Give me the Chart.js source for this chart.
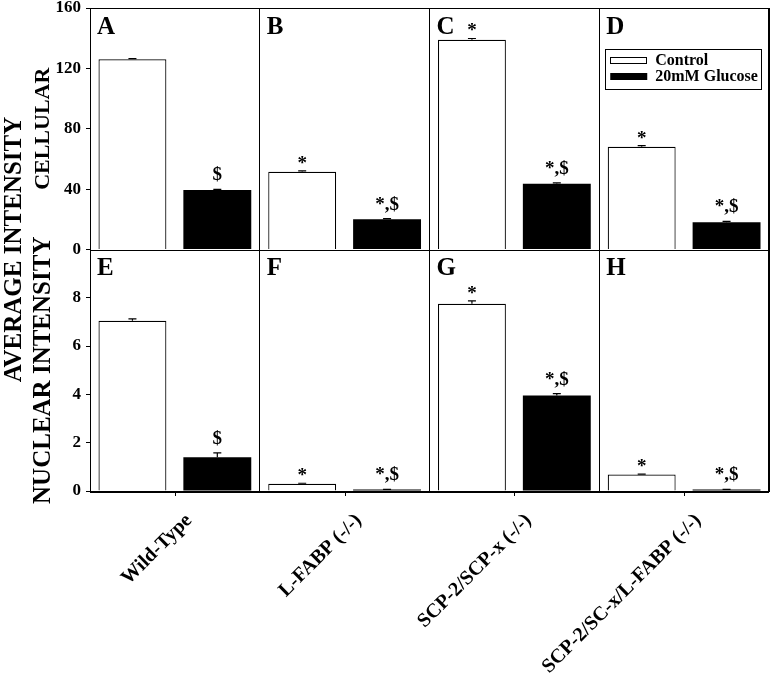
<!DOCTYPE html>
<html><head><meta charset="utf-8">
<script src="https://cdn.jsdelivr.net/npm/chart.js@4/dist/chart.umd.min.js"></script>
<style>html,body{margin:0;padding:0;background:#fff}</style>
</head><body>
<canvas id="c" width="771" height="685"></canvas>
<script>
const categories = ['Wild-Type', 'L-FABP (-/-)', 'SCP-2/SCP-x (-/-)', 'SCP-2/SC-x/L-FABP (-/-)'];
const seriesNames = ['Control', '20mM Glucose'];
const cellularControl = [126, 51.5, 139, 68];
const cellularGlucose = [39.5, 20, 43.5, 18];
const cellularControlErr = [0.5, 0.6, 0.8, 0.8];
const cellularGlucoseErr = [0.4, 0.5, 0.7, 0.6];
const nuclearControl = [7.05, 0.3, 7.75, 0.68];
const nuclearGlucose = [1.4, 0.06, 3.95, 0.06];
const nuclearControlErr = [0.08, 0.02, 0.12, 0.02];
const nuclearGlucoseErr = [0.18, 0.01, 0.08, 0.01];
const cellularControlMarks = ['', '*', '*', '*'];
const cellularGlucoseMarks = ['$', '*,$', '*,$', '*,$'];
const nuclearControlMarks = ['', '*', '*', '*'];
const nuclearGlucoseMarks = ['$', '*,$', '*,$', '*,$'];
const topPanelLetters = ['A', 'B', 'C', 'D'];
const bottomPanelLetters = ['E', 'F', 'G', 'H'];
const cellularTicks = [0, 40, 80, 120, 160];
const nuclearTicks = [0, 2, 4, 6, 8];
const yTitleMain = 'AVERAGE INTENSITY';
const yTitleTop = 'CELLULAR';
const yTitleBottom = 'NUCLEAR INTENSITY';

const FONT = "'Liberation Serif','Times New Roman',serif";
Chart.defaults.font.family = FONT;
Chart.defaults.font.weight = 'bold';
Chart.defaults.color = '#000';

const decor = {
  id: 'decor',
  afterDraw(chart) {
    const ctx = chart.ctx, ca = chart.chartArea, xs = chart.scales.x;
    const yc = chart.scales.yc, yn = chart.scales.yn;
    ctx.save();
    ctx.strokeStyle = '#000'; ctx.lineWidth = 1;
    [yc, yn].forEach(s => {
      ctx.strokeRect(Math.round(ca.left) + 0.5, Math.round(s.top) + 0.5, Math.round(ca.right - ca.left) - 1, Math.round(s.bottom - s.top));
    });
    categories.forEach((c, i) => {
      const px = Math.round(xs.getPixelForValue(i)) + 0.5;
      ctx.beginPath(); ctx.moveTo(px, ca.bottom); ctx.lineTo(px, ca.bottom + 5); ctx.stroke();
    });
    chart.data.datasets.forEach((ds, di) => {
      const meta = chart.getDatasetMeta(di);
      const ys = chart.scales[ds.yAxisID];
      meta.data.forEach((bar, i) => {
        const v = ds.data[i], e = ds.errors[i];
        const top = ys.getPixelForValue(v + e);
        const by = ys.getPixelForValue(v);
        ctx.strokeStyle = '#000'; ctx.lineWidth = 1.2;
        ctx.beginPath();
        ctx.moveTo(bar.x, by); ctx.lineTo(bar.x, top);
        ctx.moveTo(bar.x - 4, top); ctx.lineTo(bar.x + 4, top);
        ctx.stroke();
        const m = ds.marks[i];
        if (m) {
          ctx.fillStyle = '#000';
          ctx.font = "bold 19px " + FONT;
          ctx.textAlign = 'center'; ctx.textBaseline = 'alphabetic';
          ctx.fillText(m, bar.x, top - (m === '*' ? 2 : 9));
        }
      });
    });
    const half = (xs.getPixelForValue(1) - xs.getPixelForValue(0)) / 2;
    ctx.font = "bold 25px " + FONT; ctx.textAlign = 'left'; ctx.textBaseline = 'alphabetic'; ctx.fillStyle = '#000';
    categories.forEach((c, i) => {
      const left = xs.getPixelForValue(i) - half;
      ctx.fillText(topPanelLetters[i], left + 7, yc.top + 26);
      ctx.fillText(bottomPanelLetters[i], left + 7, yn.top + 25);
    });
    const lx = xs.getPixelForValue(3) - half + 6, ly = yc.top + 41;
    ctx.lineWidth = 1; ctx.strokeStyle = '#000';
    ctx.strokeRect(Math.round(lx) + 0.5, Math.round(ly) + 0.5, 156, 40);
    ctx.fillStyle = '#fff'; ctx.fillRect(lx + 5, ly + 8, 36, 6);
    ctx.strokeRect(Math.round(lx + 5) + 0.5, Math.round(ly + 8) + 0.5, 36, 6);
    ctx.fillStyle = '#000'; ctx.fillRect(lx + 5, ly + 24, 37, 7);
    ctx.font = "bold 16px " + FONT; ctx.textBaseline = 'middle';
    ctx.fillText(chart.data.datasets[0].label, lx + 50, ly + 12);
    ctx.fillText(chart.data.datasets[1].label, lx + 50, ly + 28);
    ctx.save();
    ctx.translate(15, (yc.top + yn.bottom) / 2);
    ctx.rotate(-Math.PI / 2);
    ctx.font = "bold 25px " + FONT; ctx.textAlign = 'center'; ctx.textBaseline = 'middle';
    ctx.fillText(yTitleMain, 0, 0);
    ctx.restore();
    ctx.restore();
  }
};

const mk = (label, data, errors, marks, axis, stack, color) => ({
  label, data, errors, marks, yAxisID: axis, stack,
  backgroundColor: color, borderColor: '#000', borderWidth: color === '#fff' ? 1.2 : 0,
  barPercentage: 0.8, categoryPercentage: 1.0
});

new Chart(document.getElementById('c'), {
  type: 'bar',
  data: {
    labels: categories,
    datasets: [
      mk(seriesNames[0], cellularControl, cellularControlErr, cellularControlMarks, 'yc', 'ctrl', '#fff'),
      mk(seriesNames[1], cellularGlucose, cellularGlucoseErr, cellularGlucoseMarks, 'yc', 'glu', '#000'),
      mk(seriesNames[0], nuclearControl, nuclearControlErr, nuclearControlMarks, 'yn', 'ctrl', '#fff'),
      mk(seriesNames[1], nuclearGlucose, nuclearGlucoseErr, nuclearGlucoseMarks, 'yn', 'glu', '#000')
    ]
  },
  options: {
    responsive: false, animation: false, devicePixelRatio: 1,
    layout: { padding: { left: 28, right: 2, top: 0, bottom: 0 } },
    plugins: { legend: { display: false }, tooltip: { enabled: false } },
    scales: {
      x: {
        type: 'category', offset: true,
        grid: { offset: true, color: '#000', lineWidth: 1, drawTicks: false, drawOnChartArea: true },
        border: { color: '#000', width: 1 },
        ticks: { autoSkip: false, maxRotation: 45, minRotation: 45, labelOffset: 14, padding: 18, font: { size: 20 }, color: '#000' },
        afterFit(s) { s.height = 194; s.paddingLeft = 0; s.paddingRight = 0; }
      },
      yc: {
        type: 'linear', position: 'left', stack: 'v', stackWeight: 1, weight: 1,
        min: 0, max: 160, stacked: false,
        afterBuildTicks(s) { s.ticks = cellularTicks.map(v => ({ value: v })); },
        ticks: { padding: 5, font: { size: 17 }, color: '#000' },
        grid: { drawOnChartArea: false, tickLength: 4, color: '#000' },
        border: { color: '#000', width: 1 },
        title: { display: true, text: yTitleTop, font: { size: 22 }, padding: { top: 2, bottom: 0 }, color: '#000' },
        afterFit(s) { s.width = 62; s.paddingTop = 8; s.paddingBottom = 0; }
      },
      yn: {
        type: 'linear', position: 'left', stack: 'v', stackWeight: 1, weight: 0,
        min: 0, max: 10, stacked: false,
        afterBuildTicks(s) { s.ticks = nuclearTicks.map(v => ({ value: v })); },
        ticks: { padding: 5, font: { size: 17 }, color: '#000' },
        grid: { drawOnChartArea: false, tickLength: 4, color: '#000' },
        border: { color: '#000', width: 1 },
        title: { display: true, text: yTitleBottom, font: { size: 25 }, padding: { top: 1, bottom: 0 }, color: '#000' },
        afterFit(s) { s.width = 62; s.paddingTop = 0; s.paddingBottom = 0; }
      }
    }
  },
  plugins: [decor]
});
</script>
</body></html>
